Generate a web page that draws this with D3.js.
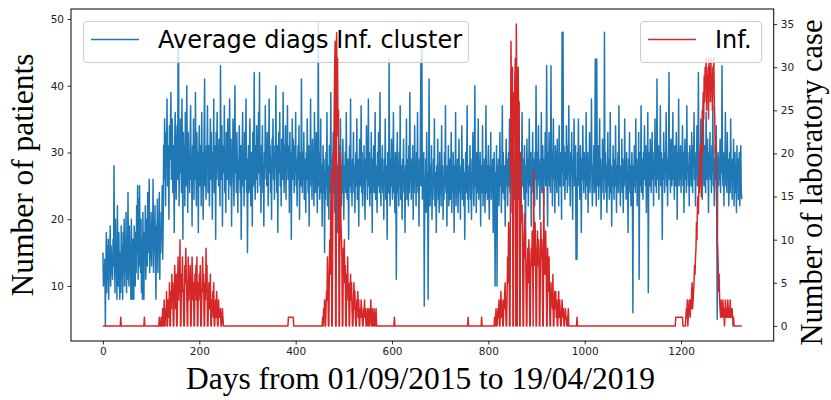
<!DOCTYPE html>
<html><head><meta charset="utf-8">
<script src="https://cdn.jsdelivr.net/npm/d3@7"></script>
<style>body{margin:0;background:#fff}svg{display:block}</style>
</head><body><svg id="c" width="831" height="400"></svg>
<script>
// Average number of diagnoses per day (left axis), day 0 = 01/09/2015
const avgDiags = [
15,10,13,12,14,4,12,18,9,16,11,17,8,15,13,19,10,16,12,14,
11,17,13,28,15,9,20,12,16,8,22,14,10,18,12,8,15,9,19,11,
16,8,18,12,20,10,15,13,21,9,17,11,24,14,10,19,12,16,8,20,
13,8,17,11,8,19,14,10,18,12,22,15,25,11,23,13,25,16,12,20,
9,17,8,21,12,8,18,14,22,11,16,20,13,24,15,18,26,12,19,14,
21,13,18,16,26,12,20,15,22,14,8,19,17,23,12,20,16,24,11,18,
15,21,17,25,14,19,31,26,35,28,22,33,29,38,25,31,27,20,34,29,
33,39,26,30,35,24,31,28,18,32,36,27,23,30,34,26,46,45,22,31,
27,35,30,24,38,29,17,33,27,31,22,36,28,25,40,30,21,33,27,29,
24,32,37,26,29,19,31,27,35,23,30,26,39,28,22,33,27,30,18,29,
34,25,28,31,22,36,27,30,20,26,33,41,25,29,23,31,28,37,24,27,
31,22,29,35,26,33,28,20,30,27,38,24,31,29,17,33,26,36,28,30,
25,32,28,22,43,30,26,34,19,29,31,27,37,24,30,21,33,28,26,35,
29,23,31,38,27,25,32,19,30,28,35,26,22,31,40,27,29,24,33,28,
21,29,26,34,28,24,31,17,27,30,36,25,28,22,33,26,30,38,24,29,
15,27,31,24,29,35,26,22,30,28,19,33,25,29,42,27,23,31,26,34,
28,24,30,36,27,42,25,29,21,31,27,34,24,28,19,30,26,37,28,31,
25,33,29,22,30,38,27,31,24,29,20,32,28,35,26,30,23,31,28,40,
27,24,31,18,29,33,27,36,25,30,22,32,28,26,39,29,24,31,27,34,
23,30,28,37,26,31,29,21,33,27,30,17,28,35,26,32,29,24,31,27,
36,25,29,22,28,31,26,34,20,27,30,25,41,28,24,30,26,33,23,29,
27,21,30,26,35,28,24,31,19,29,27,38,25,28,23,32,26,30,22,36,
27,24,29,33,26,21,28,49.5,25,30,23,27,35,24,28,19,26,31,24,29,
15,27,23,30,25,36,22,28,26,20,31,24,27,39,25,22,29,26,33,24,
27,21,30,25,37,24,28,18,26,29,23,31,25,35,27,22,28,24,32,26,
20,28,25,30,24,36,27,23,29,26,17,28,31,25,38,24,27,22,29,26,
33,24,28,21,27,30,25,35,23,29,26,19,28,32,25,27,37,24,30,22,
27,25,31,24,20,29,26,34,27,23,28,38,25,30,22,27,24,33,26,18,
29,25,31,24,27,36,23,28,26,21,30,25,33,27,24,39,26,22,29,25,
31,24,27,20,29,26,35,23,28,25,17,30,26,24,44,27,22,29,25,32,
26,23,29,36,24,27,21,30,25,11,28,33,24,27,22,30,25,37,23,28,
25,20,29,26,32,24,27,18,28,25,35,23,29,26,22,31,24,39,26,28,
23,29,25,31,20,27,24,34,26,28,22,30,25,36,24,27,19,29,25,33,
44,25,46,23,28,25,30,7,26,24,29,21,33,25,27,8,24,41,26,22,
28,24,31,20,26,23,29,25,35,22,27,24,18,28,25,32,23,27,21,30,
24,27,22,34,25,28,20,26,23,30,25,37,24,27,19,28,24,31,22,26,
29,23,27,33,21,26,24,30,25,18,28,24,36,22,27,25,29,21,26,32,
24,27,20,28,25,34,23,26,29,22,27,17,25,30,24,28,37,23,26,21,
28,25,31,23,27,20,29,26,33,24,22,28,40,25,27,21,30,24,26,35,
23,27,25,30,19,28,24,26,34,22,27,25,29,21,26,37,24,28,23,27,
31,24,20,28,26,33,23,27,25,29,18,26,30,24,10,27,25,31,10,28,
24,29,22,27,33,25,28,21,26,37,24,30,26,23,28,19,27,32,25,29,
22,27,30,25,35,24,28,21,29,26,32,24,38,27,23,29,26,20,28,31,
25,29,23,34,27,24,30,26,21,28,36,25,29,27,23,31,26,15,28,24,
32,26,29,22,28,35,25,27,30,19,28,26,33,24,29,27,22,30,26,40,
27,23,30,26,34,25,28,20,29,27,36,24,28,31,25,22,29,27,33,25,
29,43,26,19,30,27,33,25,28,24,43,27,30,22,29,35,26,28,21,31,
27,30,24,32,26,29,22,34,27,25,30,28,20,48,27,48,25,31,28,23,
30,26,34,28,24,31,27,37,25,29,22,30,27,33,26,20,29,27,35,25,
28,31,14,26,14,30,27,35,25,29,23,31,27,18,29,26,34,28,24,30,
26,29,23,36,27,25,30,21,28,26,33,24,29,27,38,25,22,28,26,31,
24,29,44,26,22,44,28,25,31,23,27,35,25,29,20,27,24,32,26,28,
23,48,26,30,24,28,21,27,33,25,29,23,26,36,24,28,19,27,25,31,
26,23,29,25,34,27,21,28,25,30,24,37,26,28,22,27,25,32,24,29,
21,27,25,35,26,28,23,30,25,27,18,29,26,33,24,28,22,26,30,25,
6,28,25,31,27,24,35,26,29,22,28,26,33,11,27,30,25,37,24,29,
27,23,30,26,34,28,25,31,21,29,27,36,9,28,30,25,32,27,24,29,
33,26,28,22,30,27,35,25,29,24,41,28,26,31,23,29,27,37,25,30,
27,17,29,26,33,28,24,30,27,36,25,29,22,28,31,42,26,29,24,32,
28,25,30,36,26,29,23,31,27,25,33,28,20,30,27,38,25,29,26,31,
24,29,27,34,25,30,21,28,32,26,29,24,37,27,30,25,28,22,31,27,
29,25,33,27,24,31,28,36,26,29,22,30,27,34,25,29,42,27,24,30,
27,35,26,30,23,29,38,27,25,31,28,24,36,29,26,32,27,21,30,28,
33,26,29,24,31,27,37,25,29,22,28,31,26,34,24,5,27,30,25,29,
26,32,24,29,27,43,28,25,30,22,29,27,36,25,28,24,33,26,29,22,
27,30,24,35,26,28,23,29,25,32,22,27,30,24,28,21,31,25,29,23,
26,30,22,28,31,24,23
];
// Number of laboratory cases per day (right axis)
const infCases = [
0,0,0,0,0,0,0,0,0,0,0,0,0,0,0,0,0,0,0,0,
0,0,0,0,0,0,0,0,0,0,0,0,0,0,0,0,0,1,0,0,
0,0,0,0,0,0,0,0,0,0,0,0,0,0,0,0,0,0,0,0,
0,0,0,0,0,0,0,0,0,0,0,0,0,0,0,0,0,0,0,0,
0,0,0,0,0,0,1,0,0,0,0,0,0,0,0,0,0,0,0,0,
0,0,0,0,0,0,0,0,0,0,0,0,0,0,0,0,0,1,0,0,
0,1,0,0,2,0,1,3,0,0,2,1,4,0,0,3,2,1,5,0,
0,4,2,6,3,5,0,0,3,7,4,2,6,0,0,5,8,3,6,4,
10,0,0,6,4,8,5,3,0,0,7,5,9,6,4,0,0,8,3,6,
5,7,0,0,4,8,6,3,5,0,0,6,4,7,3,8,0,0,5,3,
6,4,7,0,0,3,5,8,4,6,0,0,5,3,9,4,7,0,0,3,
5,2,4,6,0,0,3,2,4,1,5,0,0,2,3,1,4,2,0,0,
3,1,2,1,2,0,0,1,2,1,0,0,0,0,0,0,0,0,0,0,
0,0,0,0,0,0,0,0,0,0,0,0,0,0,0,0,0,0,0,0,
0,0,0,0,0,0,0,0,0,0,0,0,0,0,0,0,0,0,0,0,
0,0,0,0,0,0,0,0,0,0,0,0,0,0,0,0,0,0,0,0,
0,0,0,0,0,0,0,0,0,0,0,0,0,0,0,0,0,0,0,0,
0,0,0,0,0,0,0,0,0,0,0,0,0,0,0,0,0,0,0,0,
0,0,0,0,0,0,0,0,0,0,0,0,0,0,0,0,0,0,0,0,
0,0,0,0,0,1,1,1,1,1,1,1,1,1,1,1,0,0,0,0,
0,0,0,0,0,0,0,0,0,0,0,0,0,0,0,0,0,0,0,0,
0,0,0,0,0,0,0,0,0,0,0,0,0,0,0,0,0,0,0,0,
0,0,0,0,0,0,0,0,0,0,0,0,0,0,0,0,1,0,2,1,
3,0,0,2,4,3,8,5,0,0,7,10,6,14,18,0,0,12,20,17,
25,30,33,0,0,34,27,31,22,25,0,0,16,20,12,10,8,0,0,9,
6,10,5,7,0,0,6,4,8,3,5,0,0,4,6,3,5,2,0,0,
3,5,2,4,1,0,0,3,2,4,1,3,0,0,2,1,3,2,1,0,
0,2,1,3,1,2,0,0,1,2,0,1,2,0,0,1,3,1,0,2,
0,0,1,2,0,0,1,2,0,0,0,0,0,0,0,0,0,0,0,0,
0,0,0,0,0,0,0,0,0,0,0,0,0,0,0,0,0,0,0,0,
0,0,0,0,0,1,0,0,0,0,0,0,0,0,0,0,0,0,0,0,
0,0,0,0,0,0,0,0,0,0,0,0,0,0,0,0,0,0,0,0,
0,0,0,0,0,0,0,0,0,0,0,0,0,0,0,0,0,0,0,0,
0,0,0,0,0,0,0,0,0,0,0,0,0,0,0,0,0,0,0,0,
0,0,0,0,0,0,0,0,0,0,0,0,0,0,0,0,0,0,0,0,
0,0,0,0,0,0,0,0,0,0,0,0,0,0,0,0,0,0,0,0,
0,0,0,0,0,0,0,0,0,0,0,0,0,0,0,0,0,0,0,0,
0,0,0,0,0,0,0,0,0,0,0,0,0,0,0,0,0,0,1,0,
0,0,0,0,0,0,0,0,0,0,0,0,0,0,0,0,0,0,0,0,
0,0,0,0,0,0,1,0,0,0,0,0,0,0,0,0,0,0,0,0,
0,0,0,0,0,0,0,0,0,0,0,0,0,1,0,1,2,0,0,1,
2,1,3,0,0,2,4,1,3,2,0,0,3,2,4,5,2,0,0,4,
8,5,12,10,0,0,19,33,25,18,30,0,0,27,22,29,31,0,35,28,
0,25,30,22,26,0,0,20,15,12,14,10,0,0,9,13,8,11,6,0,
0,7,9,5,10,8,0,0,6,9,7,11,8,0,18,10,7,12,9,0,
0,8,11,7,10,9,0,0,6,12,8,10,7,0,0,16,9,6,8,11,
7,0,0,9,6,4,8,3,0,0,5,3,4,2,6,0,0,3,4,2,
4,1,3,0,0,2,4,1,3,2,0,0,1,3,2,1,2,0,0,1,
2,1,1,0,0,1,2,0,0,0,0,0,0,0,0,0,0,0,0,0,
0,0,0,0,1,0,0,0,0,0,0,0,0,0,0,0,0,0,0,0,
0,0,0,0,0,0,0,0,0,0,0,0,0,0,0,0,0,0,0,0,
0,0,0,0,0,0,0,0,0,0,0,0,0,0,0,0,0,0,0,0,
0,0,0,0,0,0,0,0,0,0,0,0,0,0,0,0,0,0,0,0,
0,0,0,0,0,0,0,0,0,0,0,0,0,0,0,0,0,0,0,0,
0,0,0,0,0,0,0,0,0,0,0,0,0,0,0,0,0,0,0,0,
0,0,0,0,0,0,0,0,0,0,0,0,0,0,0,0,0,0,0,0,
0,0,0,0,0,0,0,0,0,0,0,0,0,0,0,0,0,0,0,0,
0,0,0,0,0,0,0,0,0,0,0,0,0,0,0,0,0,0,0,0,
0,0,0,0,0,0,0,0,0,0,0,0,0,0,0,0,0,0,0,0,
0,0,0,0,0,0,0,0,0,1,1,1,1,1,1,1,1,1,1,1,
1,1,1,1,0,0,0,0,0,0,1,2,1,3,0,1,2,3,2,1,
3,2,4,5,2,3,4,5,7,6,8,9,12,10,14,15,13,17,16,19,
21,18,15,22,25,20,27,24,29,26,30,28,31,25,29,27,30,24,31,28,
30,26,31,27,29,25,30,28,31,26,24,20,22,17,14,10,9,7,4,6,
3,2,1,3,2,1,2,3,1,2,0,1,3,2,1,2,1,3,2,1,
2,1,3,1,2,1,2,1,0,1,0,0,0,0,0,0,0,0,0,0,
0,0,0,0,0,0,0
];
const xTicks = [0, 200, 400, 600, 800, 1000, 1200];
const leftTicks = [10, 20, 30, 40, 50];
const rightTicks = [0, 5, 10, 15, 20, 25, 30, 35];
const seriesNames = ["Average diags Inf. cluster", "Inf."];
const xLabel = "Days from 01/09/2015 to 19/04/2019";
const leftLabel = "Number of patients";
const rightLabel = "Number of laboratory case";

const L = 71, R = 773.7, T = 9, B = 341;
const BLUE = "#1f77b4", RED = "#d62728";
const svg = d3.select("#c");

const x = d3.scaleLinear().domain([-66.3, 1392.3]).range([L, R]);
const yL = d3.scaleLinear().domain([1.75, 51.5]).range([B, T]);
const yR = d3.scaleLinear().domain([-1.75, 36.75]).range([B, T]);

svg.append("defs").append("clipPath").attr("id", "clip")
  .append("rect").attr("x", L).attr("y", T).attr("width", R - L).attr("height", B - T);

// blue series (primary axis)
svg.append("path").datum(avgDiags)
  .attr("clip-path", "url(#clip)")
  .attr("fill", "none").attr("stroke", BLUE).attr("stroke-width", 1.5)
  .attr("stroke-linejoin", "round")
  .attr("d", d3.line().x((d, i) => x(i)).y(d => yL(d)));

function legend(x0, w, color, label) {
  const g = svg.append("g");
  g.append("rect").attr("x", x0 + 0.5).attr("y", 21.5).attr("width", w).attr("height", 41)
    .attr("rx", 3.5).attr("fill", "#fff").attr("fill-opacity", 0.8)
    .attr("stroke", "#cccccc").attr("stroke-width", 1);
  g.append("line").attr("x1", x0 + 8).attr("x2", x0 + 56).attr("y1", 39.5).attr("y2", 39.5)
    .attr("stroke", color).attr("stroke-width", 1.5);
  g.append("text").attr("x", x0 + 75).attr("y", 47.5)
    .attr("font-family", "DejaVu Sans").attr("font-size", 24).attr("fill", "#000")
    .text(label);
}
legend(83, 385, BLUE, seriesNames[0]);

// red series (secondary axis) drawn above first legend
svg.append("path").datum(infCases)
  .attr("clip-path", "url(#clip)")
  .attr("fill", "none").attr("stroke", RED).attr("stroke-width", 1.5)
  .attr("stroke-linejoin", "round")
  .attr("d", d3.line().x((d, i) => x(i)).y(d => yR(d)));

legend(640, 121, RED, seriesNames[1]);

// axes
function styleAxis(g) {
  g.select(".domain").remove();
  g.selectAll(".tick line").attr("stroke", "#000").attr("stroke-width", 0.8);
  g.selectAll(".tick text").attr("font-family", "DejaVu Sans").attr("font-size", 10.5).attr("fill", "#222");
}
svg.append("g").attr("transform", `translate(0,${B})`)
  .call(d3.axisBottom(x).tickValues(xTicks).tickSize(3.5).tickPadding(3.5).tickFormat(d3.format("d")))
  .call(styleAxis);
svg.append("g").attr("transform", `translate(${L},0)`)
  .call(d3.axisLeft(yL).tickValues(leftTicks).tickSize(3.5).tickPadding(3.5).tickFormat(d3.format("d")))
  .call(styleAxis);
svg.append("g").attr("transform", `translate(${R},0)`)
  .call(d3.axisRight(yR).tickValues(rightTicks).tickSize(3.5).tickPadding(3.5).tickFormat(d3.format("d")))
  .call(styleAxis);

// frame
svg.append("rect").attr("x", L).attr("y", T).attr("width", R - L).attr("height", B - T)
  .attr("fill", "none").attr("stroke", "#000").attr("stroke-width", 1);

// axis titles
svg.append("text").attr("x", 420.5).attr("y", 389).attr("text-anchor", "middle")
  .attr("font-family", "Liberation Serif").attr("font-size", 31.5).attr("fill", "#000").text(xLabel);
svg.append("text").attr("transform", "translate(33.3,175) rotate(-90)").attr("text-anchor", "middle")
  .attr("font-family", "Liberation Serif").attr("font-size", 31.5).attr("fill", "#000").text(leftLabel);
svg.append("text").attr("transform", "translate(821.5,182.5) rotate(-90)").attr("text-anchor", "middle")
  .attr("font-family", "Liberation Serif").attr("font-size", 30.5).attr("fill", "#000").text(rightLabel);
</script>
</body></html>
